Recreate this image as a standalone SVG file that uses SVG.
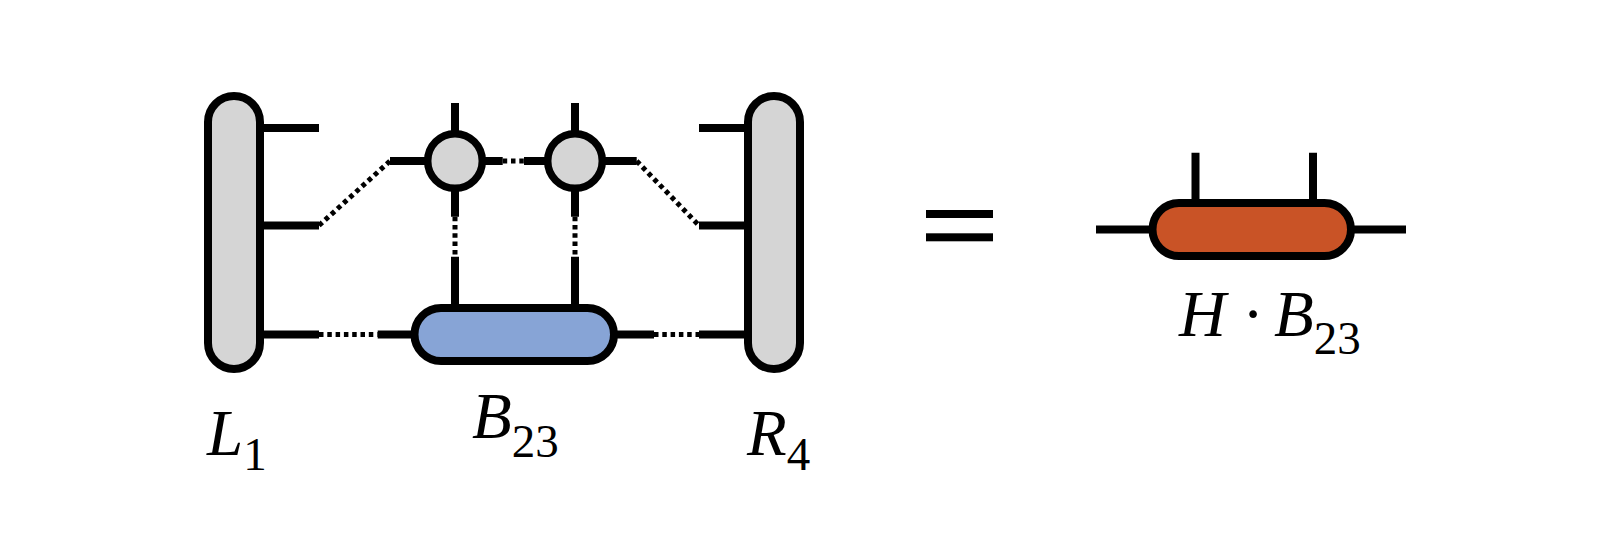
<svg xmlns="http://www.w3.org/2000/svg" width="1606" height="534" viewBox="0 0 1606 534">
<style>
.s{stroke:#000;stroke-width:8;fill:none;stroke-linecap:butt}
.d{stroke:#000;stroke-width:5;fill:none;stroke-dasharray:4.5 3.8}
.pill{fill:#d5d5d5;stroke:#000;stroke-width:8}
.sites{fill:#d5d5d5;stroke:#000;stroke-width:7.5}
.lab{font-family:"Liberation Serif","Times New Roman",serif;font-size:65px;font-style:italic;fill:#000}
.sub{font-style:normal;font-size:47px}
</style>
<rect width="1606" height="534" fill="#fff"/>
<g id="connectors">
<path class="s" d="M260 128H319M260 225.5H319M260 334.5H319M699 128H748M699 225.5H748M699 334.5H748"/>
<path class="s" d="M390 161H428M455 103V134M455 188V216.7M482 161H502.7M524 161H548M575 103V134M575 188V216.7M602 161H636.7"/>
<path class="s" d="M455 256.7V308M575 256.7V308M377.7 334.5H414.5M614 334.5H654"/>
<path class="d" d="M319 225.5L390 161M502.7 161H524M636.7 161L699 225.5M455 216.7V256.7M575 216.7V256.7M319 334.5H377.7M654 334.5H699"/>
<path class="s" d="M1096 229.5H1152.5M1351 229.5H1406M1195.5 152.7V203M1313 152.7V203"/>
</g>
<g id="L1"><rect class="pill" x="208" y="96" width="52" height="273" rx="26"/>
<text class="lab" x="207" y="455">L<tspan class="sub" dy="15">1</tspan></text></g>
<g id="R4"><rect class="pill" x="748" y="96" width="52" height="273" rx="26"/>
<text class="lab" x="747" y="455">R<tspan class="sub" dy="15">4</tspan></text></g>
<g id="site1"><circle class="sites" cx="455" cy="161" r="27.3"/></g>
<g id="site2"><circle class="sites" cx="575" cy="161" r="27.3"/></g>
<g id="B23"><rect x="414.5" y="308" width="199.5" height="53" rx="26.5" fill="#87a4d6" stroke="#000" stroke-width="8"/>
<text class="lab" x="472" y="438">B<tspan class="sub" dy="19">23</tspan></text></g>
<g id="equals"><rect x="926" y="210" width="67" height="8"/><rect x="926" y="233.3" width="67" height="8"/></g>
<g id="HB23"><rect x="1152.5" y="203" width="198.5" height="53" rx="26.5" fill="#c95326" stroke="#000" stroke-width="8"/>
<text class="lab" x="1179" y="336">H</text>
<text class="lab" x="1253" y="336" text-anchor="middle" style="font-style:normal">·</text>
<text class="lab" x="1274" y="336">B<tspan class="sub" dy="18">23</tspan></text></g>
</svg>
